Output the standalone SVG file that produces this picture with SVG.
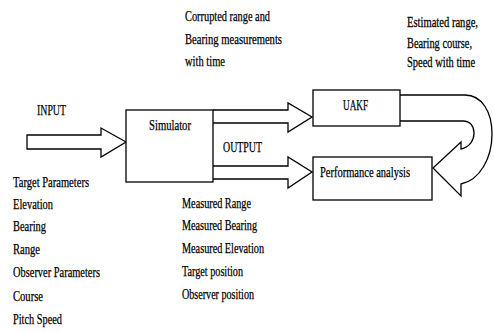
<svg xmlns="http://www.w3.org/2000/svg" width="494" height="332" viewBox="0 0 494 332">
<style>
text{font-family:"Liberation Serif","Times New Roman",serif;font-size:14px;fill:#000;stroke:#000;stroke-width:0.25}
.box{fill:#fff;stroke:#000;stroke-width:1.3}
.arr{fill:#fff;stroke:#000;stroke-width:1.3;stroke-linejoin:miter}
</style>
<rect width="494" height="332" fill="#fff"/>
<g id="connectors">
<path class="arr" d="M27,135 L101,135 L101,128 L126,142 L101,157 L101,149 L27,149 Z"/>
<path class="arr" d="M213,110 L288,110 L288,103 L312,117 L288,132 L288,123 L213,123"/>
<path class="arr" d="M213,166 L288,166 L288,157 L312,172 L288,188 L288,179 L213,179"/>
<path class="arr" d="M400,95 L465,95 C482,95 492,112 492,134 C492,158 480,180 461,184 L461,196 L433,168 L461,142 L461,149 C470,147 474,140 474,133 C474,126 470,121 463,121 L400,121"/>
</g>
<g id="simulator">
<rect class="box" x="126" y="110" width="87" height="72"/>
<text x="149" y="130" textLength="42" lengthAdjust="spacingAndGlyphs">Simulator</text>
</g>
<g id="uakf">
<rect class="box" x="313" y="90" width="87" height="36"/>
<text x="343" y="110" textLength="25" lengthAdjust="spacingAndGlyphs">UAKF</text>
</g>
<g id="performance">
<rect class="box" x="313" y="157" width="119" height="43"/>
<text x="320" y="177" textLength="90" lengthAdjust="spacingAndGlyphs">Performance analysis</text>
</g>
<g id="labels">
<text x="37" y="115" textLength="29" lengthAdjust="spacingAndGlyphs">INPUT</text>
<text x="223" y="152" textLength="39" lengthAdjust="spacingAndGlyphs">OUTPUT</text>
<text x="185" y="21" textLength="85" lengthAdjust="spacingAndGlyphs">Corrupted range and</text>
<text x="185" y="44" textLength="97" lengthAdjust="spacingAndGlyphs">Bearing measurements</text>
<text x="185" y="66" textLength="40" lengthAdjust="spacingAndGlyphs">with time</text>
<text transform="translate(407,27) scale(0.75,1)" textLength="94.7" lengthAdjust="spacingAndGlyphs">Estimated range,</text>
<text transform="translate(407,48) scale(0.75,1)" textLength="86.7" lengthAdjust="spacingAndGlyphs">Bearing course,</text>
<text transform="translate(407,67) scale(0.75,1)" textLength="90.7" lengthAdjust="spacingAndGlyphs">Speed with time</text>
<text x="13" y="187" textLength="76" lengthAdjust="spacingAndGlyphs">Target Parameters</text>
<text x="13" y="209" textLength="40" lengthAdjust="spacingAndGlyphs">Elevation</text>
<text x="13" y="231" textLength="33" lengthAdjust="spacingAndGlyphs">Bearing</text>
<text x="13" y="254" textLength="27" lengthAdjust="spacingAndGlyphs">Range</text>
<text x="13" y="277" textLength="87" lengthAdjust="spacingAndGlyphs">Observer Parameters</text>
<text x="13" y="301" textLength="30" lengthAdjust="spacingAndGlyphs">Course</text>
<text x="13" y="324" textLength="49" lengthAdjust="spacingAndGlyphs">Pitch Speed</text>
<text x="182" y="208" textLength="69" lengthAdjust="spacingAndGlyphs">Measured Range</text>
<text x="182" y="230" textLength="75" lengthAdjust="spacingAndGlyphs">Measured Bearing</text>
<text x="182" y="253" textLength="82" lengthAdjust="spacingAndGlyphs">Measured Elevation</text>
<text x="182" y="276" textLength="61" lengthAdjust="spacingAndGlyphs">Target position</text>
<text x="182" y="299" textLength="72" lengthAdjust="spacingAndGlyphs">Observer position</text>
</g>
</svg>
